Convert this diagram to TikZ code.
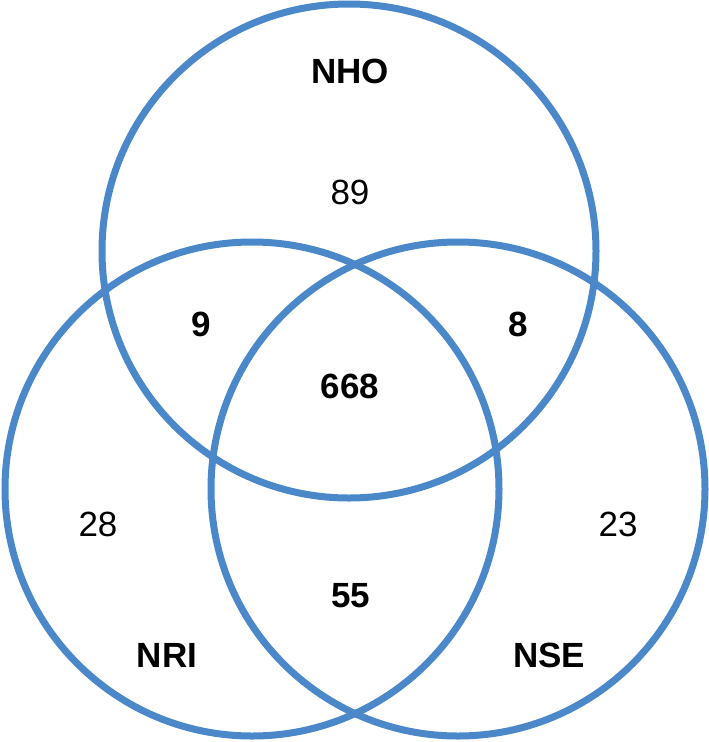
\documentclass[tikz,border=0pt]{standalone}
\usepackage{fontspec}
\setmainfont{Liberation Sans}
\definecolor{vennblue}{RGB}{74,136,202}
\begin{document}
\begin{tikzpicture}[
                x = 1pt, y = -1pt,
                set/.style = {draw = vennblue, line width = 7pt, circle, inner sep = 0mm, minimum size = 494pt},
                num/.style = {font = \fontsize{35}{42}\selectfont, inner sep = 0mm},
                bnum/.style = {font = \fontsize{35}{42}\selectfont\bfseries, inner sep = 0mm},
            ]
            \useasboundingbox (0, 0) rectangle (709, 742);

            \node (HO) at (349, 251) [set] {};
            \node (RI) at (252, 489) [set] {};
            \node (SE) at (458, 489) [set] {};

            \node (nameHO) at (350, 71) [bnum] {NHO};
            \node (nameRI) at (167, 655) [bnum] {NRI};
            \node (nameSE) at (549, 655) [bnum] {NSE};

            \node (onlyHO) at (350, 192) [num] {89};
            \node (onlyRI) at (98, 524) [num] {28};
            \node (onlySE) at (618, 524) [num] {23};

            \node (HORI) at (201, 324) [bnum] {9};
            \node (HOSE) at (518, 324) [bnum] {8};
            \node (RISE) at (351, 596) [bnum] {55};
            \node (all) at (350, 386) [bnum] {668};
        \end{tikzpicture}
\end{document}
